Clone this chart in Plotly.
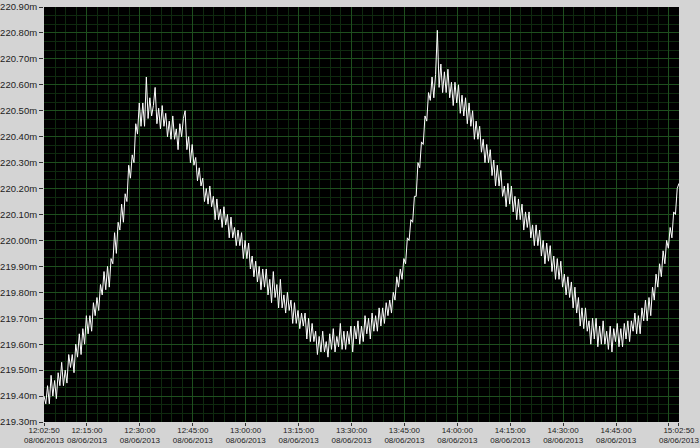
import pandas as pd
import plotly.graph_objects as go

start_time = "2013-06-08 12:02:50"
sample_step = "30s"

voltage = [
    219.40, 219.37, 219.44, 219.37, 219.48, 219.40, 219.46, 219.39, 219.49, 219.44,
    219.53, 219.44, 219.50, 219.45, 219.56, 219.51, 219.56, 219.49, 219.60, 219.55,
    219.64, 219.56, 219.66, 219.60, 219.71, 219.64, 219.71, 219.65, 219.76, 219.71,
    219.78, 219.73, 219.83, 219.79, 219.88, 219.81, 219.90, 219.82, 219.93, 219.91,
    220.03, 219.95, 220.07, 220.04, 220.14, 220.07, 220.18, 220.15, 220.29, 220.24,
    220.33, 220.30, 220.45, 220.41, 220.53, 220.44, 220.53, 220.44, 220.63, 220.47,
    220.55, 220.48, 220.52, 220.59, 220.45, 220.51, 220.43, 220.52, 220.44, 220.49,
    220.40, 220.46, 220.39, 220.48, 220.39, 220.43, 220.35, 220.45, 220.40, 220.47,
    220.50, 220.35, 220.40, 220.30, 220.37, 220.29, 220.32, 220.23, 220.28, 220.21,
    220.24, 220.15, 220.20, 220.14, 220.21, 220.13, 220.17, 220.08, 220.16, 220.08,
    220.12, 220.05, 220.13, 220.06, 220.10, 220.01, 220.09, 220.01, 220.05, 219.98,
    220.04, 219.98, 220.03, 219.93, 220.00, 219.93, 219.99, 219.89, 219.94, 219.86,
    219.92, 219.84, 219.90, 219.81, 219.89, 219.82, 219.89, 219.79, 219.85, 219.76,
    219.88, 219.78, 219.83, 219.74, 219.85, 219.74, 219.79, 219.72, 219.80, 219.73,
    219.77, 219.68, 219.76, 219.68, 219.73, 219.66, 219.72, 219.67, 219.72, 219.62,
    219.70, 219.61, 219.68, 219.61, 219.65, 219.56, 219.63, 219.57, 219.65, 219.57,
    219.61, 219.55, 219.64, 219.58, 219.66, 219.57, 219.63, 219.59, 219.68, 219.58,
    219.65, 219.58, 219.65, 219.60, 219.67, 219.57, 219.67, 219.62, 219.69, 219.60,
    219.67, 219.61, 219.71, 219.64, 219.70, 219.62, 219.72, 219.65, 219.71, 219.65,
    219.74, 219.67, 219.74, 219.68, 219.76, 219.71, 219.77, 219.72, 219.80, 219.77,
    219.86, 219.82, 219.89, 219.85, 219.93, 219.91, 220.01, 220.00, 220.08, 220.07,
    220.17, 220.17, 220.30, 220.28, 220.38, 220.37, 220.48, 220.46, 220.57, 220.54,
    220.63, 220.55, 220.64, 220.81, 220.59, 220.68, 220.57, 220.65, 220.57, 220.66,
    220.55, 220.61, 220.52, 220.61, 220.53, 220.60, 220.49, 220.56, 220.48, 220.55,
    220.45, 220.53, 220.44, 220.50, 220.39, 220.46, 220.39, 220.44, 220.34, 220.39,
    220.30, 220.37, 220.30, 220.35, 220.25, 220.31, 220.21, 220.29, 220.21, 220.27,
    220.17, 220.21, 220.13, 220.22, 220.14, 220.21, 220.11, 220.17, 220.08, 220.16,
    220.08, 220.14, 220.04, 220.11, 220.05, 220.11, 220.01, 220.06, 219.98, 220.06,
    219.98, 220.04, 219.94, 220.00, 219.91, 219.99, 219.92, 219.98, 219.88, 219.94,
    219.85, 219.93, 219.85, 219.92, 219.82, 219.87, 219.79, 219.86, 219.78, 219.84,
    219.74, 219.82, 219.72, 219.78, 219.67, 219.74, 219.66, 219.74, 219.65, 219.69,
    219.60, 219.70, 219.62, 219.70, 219.59, 219.67, 219.60, 219.69, 219.60, 219.65,
    219.58, 219.67, 219.57, 219.66, 219.61, 219.68, 219.59, 219.66, 219.59, 219.68,
    219.62, 219.69, 219.61, 219.69, 219.65, 219.72, 219.64, 219.71, 219.64, 219.74,
    219.69, 219.77, 219.69, 219.78, 219.71, 219.82, 219.77, 219.87, 219.82, 219.91,
    219.86, 219.96, 219.91, 220.00, 219.97, 220.05, 220.01, 220.11, 220.10, 220.20,
    220.22,
]

x_tick_times = ["12:02:50", "12:15:00", "12:30:00", "12:45:00", "13:00:00", "13:15:00",
                "13:30:00", "13:45:00", "14:00:00", "14:15:00", "14:30:00", "14:45:00",
                "15:00:00", "15:02:50"]
x_tick_labels = ["12:02:50", "12:15:00", "12:30:00", "12:45:00", "13:00:00", "13:15:00",
                 "13:30:00", "13:45:00", "14:00:00", "14:15:00", "14:30:00", "14:45:00",
                 "", "15:02:50"]
date_label = "08/06/2013"
y_ticks = [219.30, 219.40, 219.50, 219.60, 219.70, 219.80, 219.90, 220.00,
           220.10, 220.20, 220.30, 220.40, 220.50, 220.60, 220.70, 220.80, 220.90]

times = pd.date_range(start=start_time, periods=len(voltage), freq=sample_step)
tickvals = [pd.Timestamp("2013-06-08 " + t) for t in x_tick_times]
ticktext = [(lbl + "<br>" + date_label) if lbl else "" for lbl in x_tick_labels]
x_range = [times[0] - pd.Timedelta(milliseconds=500), times[-1] + pd.Timedelta(milliseconds=500)]

FONT = "Liberation Sans Narrow, Liberation Sans, Arial"
MAJOR = "#1e4f1e"
MINOR = "#0f2a0f"

fig = go.Figure()
fig.add_trace(go.Scatter(x=times, y=voltage, mode="lines",
                         line=dict(color="#ffffff", width=1), hoverinfo="skip"))

fig.update_layout(
    width=700, height=448,
    margin=dict(l=44, r=21, t=7, b=26),
    paper_bgcolor="#d4d4d4",
    plot_bgcolor="#000000",
    showlegend=False,
    font=dict(family=FONT, size=9, color="#222222"),
)
fig.update_xaxes(
    range=x_range,
    tickmode="array", tickvals=tickvals, ticktext=ticktext,
    tickangle=0, automargin=False,
    ticklabeloverflow="allow",
    ticks="outside", ticklen=3, tickcolor="#333333",
    ticklabelstandoff=-3,
    showgrid=True, gridcolor=MAJOR, gridwidth=1,
    minor=dict(tickmode="linear", tick0="2013-06-08 12:00:00", dtick=180000,
               showgrid=True, gridcolor=MINOR, gridwidth=1, ticks=""),
    zeroline=False, showline=False,
    tickfont=dict(family=FONT, size=8, color="#222222"),
)
fig.update_yaxes(
    range=[219.30, 220.90],
    tickmode="array", tickvals=y_ticks, ticktext=[f"{v:.2f}m" for v in y_ticks],
    automargin=False,
    ticks="outside", ticklen=4, tickcolor="#333333",
    showgrid=True, gridcolor=MAJOR, gridwidth=1,
    minor=dict(tickmode="linear", tick0=219.30, dtick=0.1 / 3,
               showgrid=True, gridcolor=MINOR, gridwidth=1, ticks=""),
    zeroline=False, showline=False,
    tickfont=dict(family=FONT, size=9.5, color="#222222"),
)

fig.write_html(
    "out.html",
    config={"displayModeBar": False, "staticPlot": True},
    post_script="document.body.style.margin='0';document.body.style.background='#d4d4d4';",
)
